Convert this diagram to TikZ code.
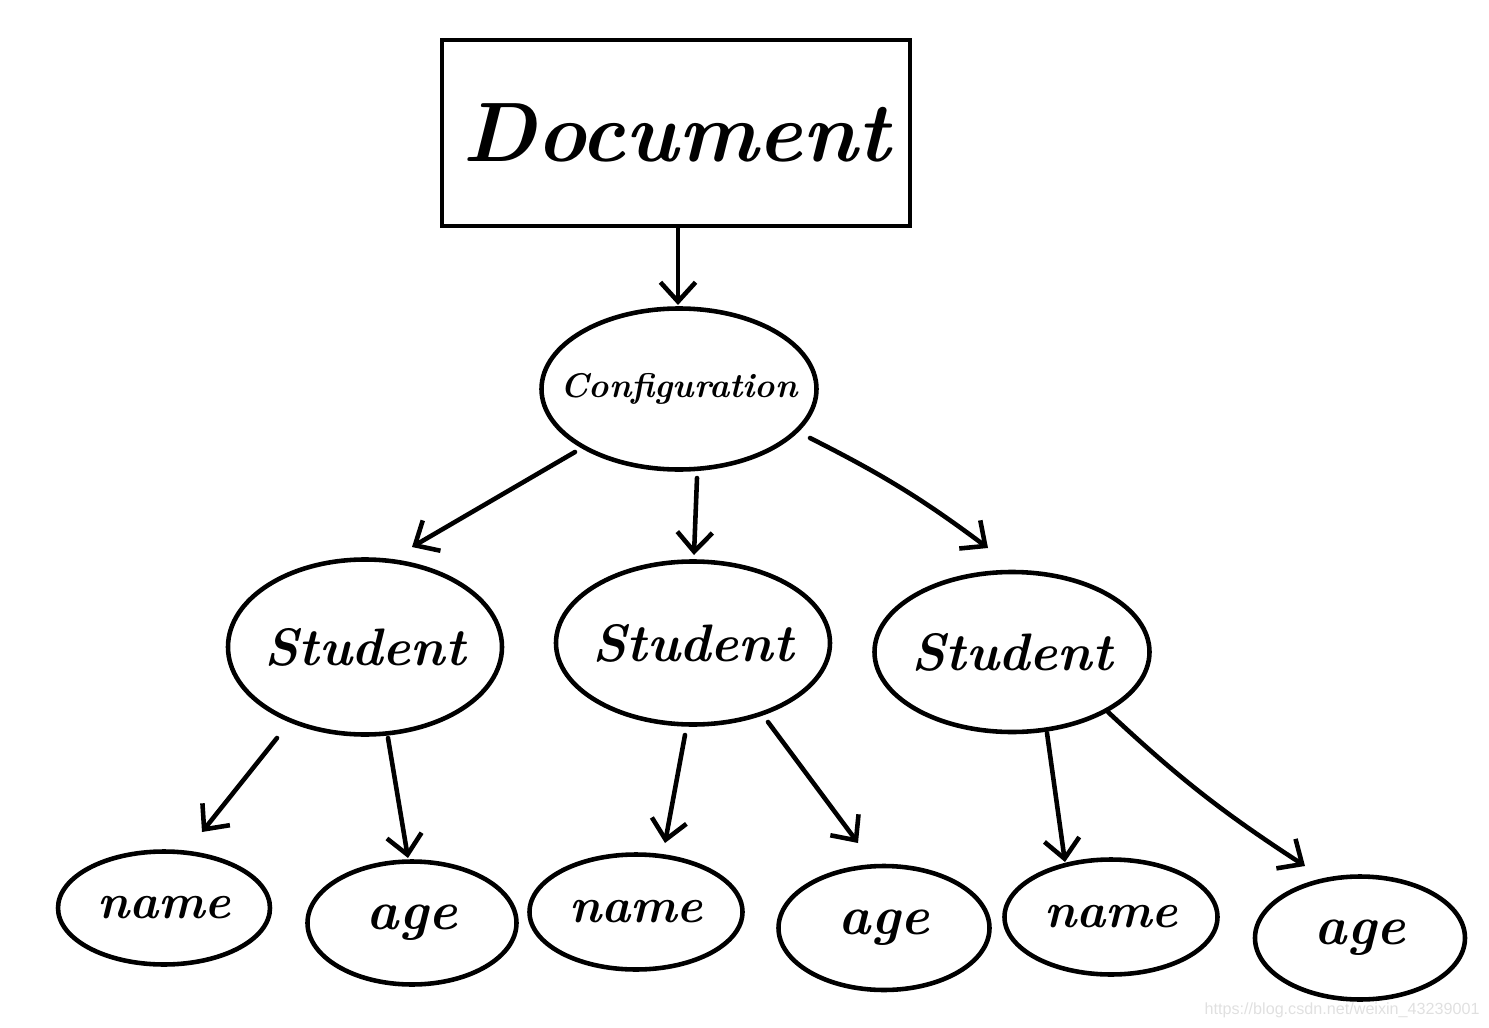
\documentclass[tikz,border=0pt]{standalone}
\usepackage{fontspec}
\setmainfont{Latin Modern Roman}
\newfontfamily\wmfont{Liberation Sans}
\usetikzlibrary{arrows.meta,shapes.geometric}
\definecolor{wmgray}{HTML}{E0E0E0}
\begin{document}
\begin{tikzpicture}[x=0.02cm,y=-0.02cm,
  ln/.style={line width=2.6pt},
  oval/.style={ln,draw,ellipse,inner sep=0pt},
  arr/.style={ln,line cap=round,-{Straight Barb[length=11pt,width=20pt,line width=2.6pt]}},
  big/.style={label={[font=\bfseries\itshape\fontsize{30}{34}\selectfont]center:#1}},
  small/.style={label={[font=\bfseries\itshape\fontsize{28}{32}\selectfont]center:#1}},
  sage/.style={label={[font=\bfseries\itshape\fontsize{31}{34}\selectfont]center:#1}}]
\useasboundingbox (0,0) rectangle (1489,1028);
% nodes
\node[ln,draw,inner sep=0pt,minimum width=468*0.02cm,minimum height=186*0.02cm,font=\bfseries\itshape\fontsize{48}{54}\selectfont] (doc) at (676,133) {Document};
\node[oval,minimum width=275*0.02cm,minimum height=161*0.02cm,label={[font=\bfseries\itshape\fontsize{19.5}{22}\selectfont]center:Configuration}] (conf) at (679,389) {};
\node[oval,minimum width=274*0.02cm,minimum height=175*0.02cm,big=Student] (s1) at (365,647) {};
\node[oval,minimum width=274*0.02cm,minimum height=163*0.02cm,big=Student] (s2) at (693,643) {};
\node[oval,minimum width=275*0.02cm,minimum height=160*0.02cm,big=Student] (s3) at (1012,652) {};
\node[oval,minimum width=212*0.02cm,minimum height=113*0.02cm,small=name] (n1) at (164,908) {};
\node[oval,minimum width=209*0.02cm,minimum height=123*0.02cm,sage=age] (a1) at (412,923) {};
\node[oval,minimum width=213*0.02cm,minimum height=115*0.02cm,small=name] (n2) at (636,912) {};
\node[oval,minimum width=211*0.02cm,minimum height=124*0.02cm,sage=age] (a2) at (884,928) {};
\node[oval,minimum width=213*0.02cm,minimum height=115*0.02cm,small=name] (n3) at (1111,917) {};
\node[oval,minimum width=210*0.02cm,minimum height=123*0.02cm,sage=age] (a3) at (1360,938) {};
% arrow end coordinates
\coordinate (dT) at (678,305);
\coordinate (c1a) at (575,452);  \coordinate (c1b) at (412,547);
\coordinate (c2a) at (697,478);  \coordinate (c2b) at (694,555);
\coordinate (c3a) at (810,438);  \coordinate (c3b) at (988,548);
\coordinate (s1na) at (277,738); \coordinate (s1nb) at (202,832);
\coordinate (s1aa) at (388,738); \coordinate (s1ab) at (408,858);
\coordinate (s2na) at (685,735); \coordinate (s2nb) at (665,843);
\coordinate (s2aa) at (768,722); \coordinate (s2ab) at (858,843);
\coordinate (s3na) at (1047,733);\coordinate (s3nb) at (1065,862);
\coordinate (s3aa) at (1108,712);\coordinate (s3ab) at (1305,866);
% connectors
\draw[arr] (doc.south -| dT) -- (dT);
\draw[arr] (c1a) -- (c1b);
\draw[arr] (c2a) -- (c2b);
\draw[arr] (c3a) to[bend left=5] (c3b);
\draw[arr] (s1na) -- (s1nb);
\draw[arr] (s1aa) -- (s1ab);
\draw[arr] (s2na) -- (s2nb);
\draw[arr] (s2aa) -- (s2ab);
\draw[arr] (s3na) -- (s3nb);
\draw[arr] (s3aa) to[bend right=5] (s3ab);
% watermark
\node[anchor=east,text=wmgray,font=\wmfont\fontsize{9.2}{11}\selectfont,inner sep=0pt] (wm) at (1480,1010) {https://blog.csdn.net/weixin\_43239001};
\end{tikzpicture}
\end{document}
